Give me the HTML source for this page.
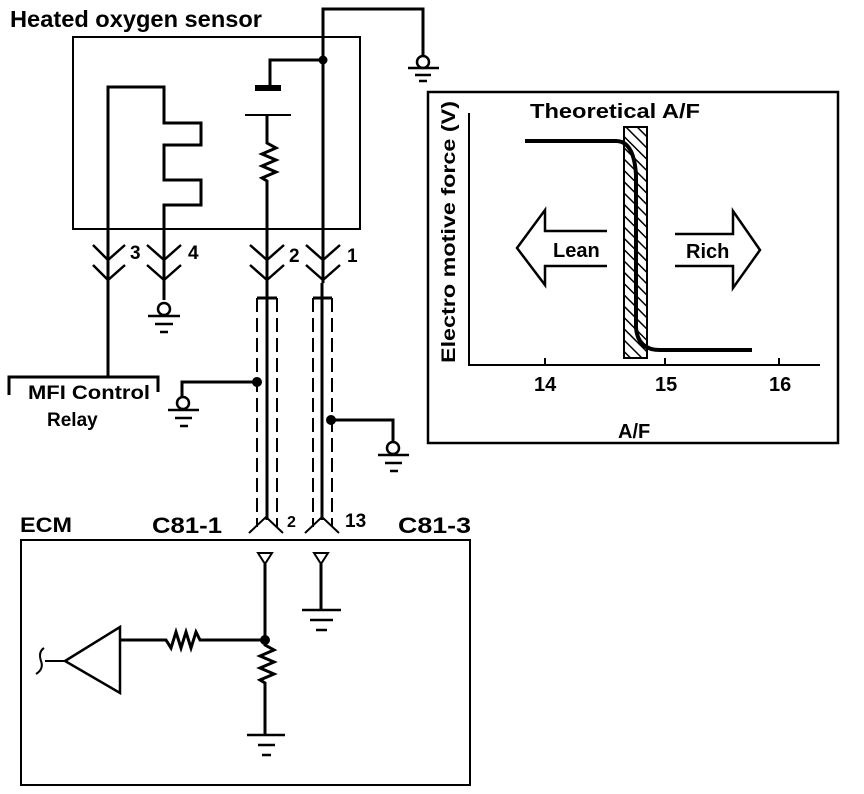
<!DOCTYPE html>
<html><head><style>
html,body{margin:0;padding:0;background:#fff}
svg{display:block}
text{font-family:"Liberation Sans",Arial,sans-serif;font-weight:bold;fill:#000}
</style></head><body>
<svg width="864" height="794" viewBox="0 0 864 794" xmlns="http://www.w3.org/2000/svg">
<g fill="none" stroke="#000" stroke-width="2">
<rect x="73" y="37" width="287" height="192"/>
<path d="M323 283 V9 H423 V56" stroke-width="3"/>
<circle cx="423" cy="62" r="6" stroke-width="2.5"/>
<path d="M408 68 H439 M415 75 H431 M419 81 H427" stroke-width="2.5"/>
<circle cx="323" cy="60" r="3.5" fill="#000"/>
<path d="M323 60 H270 V88" stroke-width="3"/>
<path d="M255 88 H281" stroke-width="6"/>
<path d="M245 115 H291" stroke-width="2"/>
<path d="M267 115 V143 l9 5 -14 6 14 6 -14 6 14 6 -14 6 5 3 V283" stroke-width="3"/>
<path d="M108 377 V87 H164 V123 H201 V145 H164 V180 H201 V205 H164 V300" stroke-width="3"/>
<circle cx="164" cy="309" r="6" stroke-width="2.5"/>
<path d="M148 316 H180 M155 324 H173 M160 332 H168" stroke-width="2.5"/>
<g stroke-width="2.5">
<path d="M93 245 L108 260 L125 245 M93 265 L108 280 L125 265"/>
<path d="M147 245 L164 260 L181 245 M147 265 L164 280 L181 265"/>
<path d="M250 245 L267 260 L284 245 M250 265 L267 280 L284 265"/>
<path d="M306 245 L323 260 L340 245 M306 265 L323 280 L340 265"/>
</g>
<path d="M9 395 V377 H158 V392" stroke-width="3"/>
<path d="M257 298 H277 M313 298 H332" stroke-width="3"/>
<path d="M257 298 V527 M277 298 V527 M313 298 V527 M332 298 V527" stroke-dasharray="14 6"/>
<path d="M267 283 V520 M322 283 V520" stroke-width="3"/>
<circle cx="257" cy="382" r="4" fill="#000"/>
<path d="M257 382 H182 V397" stroke-width="3"/>
<circle cx="183" cy="403" r="6" stroke-width="2.5"/>
<path d="M168 410 H199 M175 418 H192 M180 426 H188" stroke-width="2.5"/>
<circle cx="331" cy="420" r="4" fill="#000"/>
<path d="M331 420 H393 V442" stroke-width="3"/>
<circle cx="393" cy="448" r="6" stroke-width="2.5"/>
<path d="M378 455 H409 M385 463 H402 M390 471 H398" stroke-width="2.5"/>
<path d="M249 533 L266 517 L283 533 M305 533 L322 517 L339 533" stroke-width="2"/>
<rect x="21" y="540" width="449" height="245"/>
<path d="M258 553 H272 L265 564 Z M314 553 H328 L321 564 Z" stroke-width="2"/>
<path d="M265 564 V645 l9 5 -14 6 14 6 -14 6 14 6 -14 6 5 3 V735" stroke-width="3"/>
<path d="M247 735 H285 M258 745 H275 M262 755 H271" stroke-width="2.5"/>
<path d="M321 564 V610" stroke-width="3"/>
<path d="M302 610 H341 M310 620 H333 M316 630 H327" stroke-width="2.5"/>
<circle cx="265" cy="640" r="4" fill="#000"/>
<path d="M265 640 H200 l-4 -8 -5 16 -5 -16 -5 16 -5 -16 -5 16 -5 -8 H120" stroke-width="3"/>
<path d="M120 627 V693 L65 661 Z" stroke-width="2.5"/>
<path d="M65 661 H45 M44 648 q-6 4 -3 13 q3 8 -5 13" stroke-width="2"/>
<rect x="428" y="92" width="410" height="351" stroke-width="2.5"/>
<path d="M469 113 V365 H820" stroke-width="2"/>
<path d="M545 358 V366 M665 358 V366 M779 358 V366" stroke-width="2"/>
</g>
<defs><pattern id="h" width="8" height="8" patternUnits="userSpaceOnUse" patternTransform="rotate(-45)"><path d="M0 0 V8" stroke="#000" stroke-width="3"/></pattern></defs>
<rect x="624" y="127" width="23" height="231" fill="url(#h)" stroke="#000" stroke-width="2"/>
<path d="M525 141 H616 Q634 141 636 175 V328 Q638 350 660 350 H752" fill="none" stroke="#000" stroke-width="4"/>
<path d="M607 231 H545 V210 L517 248 L545 285 V266 H607" fill="#fff" stroke="#000" stroke-width="2.5"/>
<path d="M675 234 H733 V211 L760 250 L733 288 V266 H675" fill="#fff" stroke="#000" stroke-width="2.5"/>
<text x="10" y="27" font-size="23" textLength="252" lengthAdjust="spacingAndGlyphs">Heated oxygen sensor</text>
<text x="130" y="259" font-size="19">3</text>
<text x="188" y="259" font-size="19">4</text>
<text x="289" y="262" font-size="19">2</text>
<text x="347" y="262" font-size="19">1</text>
<text x="28" y="399" font-size="19" textLength="122" lengthAdjust="spacingAndGlyphs">MFI Control</text>
<text x="47" y="426" font-size="19">Relay</text>
<text x="20" y="532" font-size="21" textLength="52" lengthAdjust="spacingAndGlyphs">ECM</text>
<text x="152" y="533" font-size="22" font-weight="normal" textLength="70" lengthAdjust="spacingAndGlyphs">C81-1</text>
<text x="287" y="527" font-size="16" font-weight="normal">2</text>
<text x="345" y="527" font-size="19" font-weight="normal">13</text>
<text x="398" y="533" font-size="22" font-weight="normal" textLength="73" lengthAdjust="spacingAndGlyphs">C81-3</text>
<text x="530" y="118" font-size="20" font-weight="normal" textLength="170" lengthAdjust="spacingAndGlyphs">Theoretical A/F</text>
<text x="553" y="257" font-size="20" font-weight="normal">Lean</text>
<text x="686" y="258" font-size="20" font-weight="normal">Rich</text>
<text x="534" y="391" font-size="20" font-weight="normal">14</text>
<text x="655" y="391" font-size="20" font-weight="normal">15</text>
<text x="769" y="391" font-size="20" font-weight="normal">16</text>
<text x="618" y="438" font-size="20" font-weight="normal">A/F</text>
<text transform="translate(455,232) rotate(-90)" text-anchor="middle" font-size="19" textLength="262" lengthAdjust="spacingAndGlyphs">Electro motive force (V)</text>
</svg>
</body></html>
